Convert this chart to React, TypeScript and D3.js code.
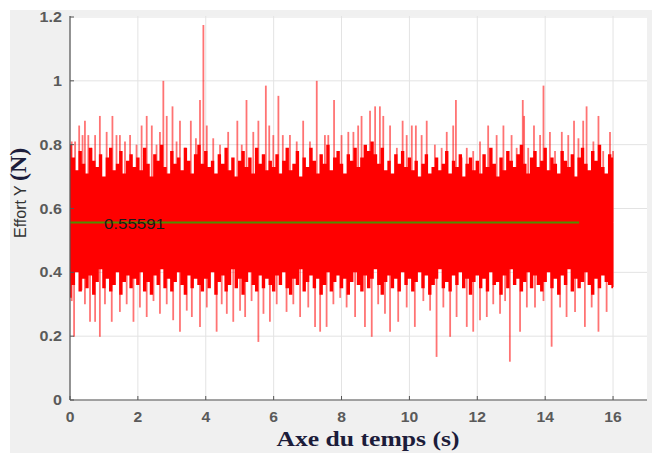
import React from "react";
import * as d3 from "d3";

// Upward spikes: time (s) and value (N)
const upT = [0.05,0.15,0.27,0.37,0.44,0.54,0.64,0.74,0.88,1.08,1.25,1.37,1.47,1.62,1.77,1.96,2.11,2.26,2.41,2.55,2.65,2.75,2.85,3.02,3.14,3.24,3.39,3.56,3.71,3.83,3.93,4.03,4.22,4.42,4.66,4.93,5.06,5.2,5.4,5.55,5.77,5.87,5.99,6.14,6.27,6.48,6.68,6.87,7.07,7.27,7.51,7.61,7.78,8.0,8.2,8.35,8.49,8.59,8.84,8.99,9.13,9.23,9.43,9.63,9.8,9.92,10.07,10.19,10.36,10.51,10.75,10.95,11.1,11.29,11.37,11.54,11.69,11.88,12.08,12.32,12.57,12.77,13.01,13.16,13.34,13.38,13.5,13.67,13.85,13.95,14.14,14.29,14.49,14.68,14.85,14.98,15.12,15.22,15.42,15.57,15.71,15.91,16.0];
const upV = [0.81,0.81,0.86,0.83,0.875,0.83,0.79,0.83,0.89,0.84,0.89,0.83,0.83,0.81,0.83,0.80,0.86,0.89,0.86,0.80,0.84,1.0,0.89,0.92,0.81,0.875,0.79,0.875,0.82,0.94,1.175,0.86,0.82,0.80,0.84,0.875,0.80,0.94,0.84,0.875,0.985,0.86,0.83,0.953,0.83,0.83,0.81,0.875,0.81,1.0,0.83,0.83,0.94,0.83,0.84,0.84,0.86,0.89,0.906,0.92,0.92,0.89,0.86,0.79,0.875,0.83,0.86,0.86,0.83,0.875,0.80,0.79,0.84,0.86,0.94,0.76,0.79,0.78,0.81,0.86,0.83,0.86,0.83,0.79,0.94,0.89,0.79,0.86,0.83,0.985,0.84,0.78,0.84,0.83,0.875,0.82,0.875,0.92,0.81,0.89,0.78,0.84,0.78];

// Downward spikes
const downT = [0.05,0.12,0.34,0.44,0.59,0.74,0.88,1.03,1.23,1.47,1.67,1.87,2.06,2.26,2.46,2.65,2.85,3.04,3.24,3.44,3.59,3.83,4.03,4.32,4.47,4.62,4.81,5.01,5.16,5.35,5.55,5.7,5.89,6.09,6.38,6.58,6.78,7.02,7.22,7.37,7.56,7.76,7.96,8.15,8.4,8.69,8.89,9.08,9.28,9.43,9.67,9.92,10.16,10.41,10.61,10.8,11.0,11.2,11.39,11.69,11.88,12.08,12.28,12.47,12.67,12.82,12.96,13.26,13.46,13.7,13.95,14.19,14.44,14.63,14.88,15.17,15.37,15.57,15.81,16.0];
const downV = [0.31,0.198,0.344,0.30,0.245,0.245,0.198,0.30,0.245,0.276,0.30,0.245,0.29,0.26,0.31,0.27,0.30,0.25,0.214,0.28,0.26,0.229,0.29,0.214,0.30,0.27,0.245,0.28,0.26,0.31,0.182,0.27,0.245,0.30,0.276,0.30,0.26,0.29,0.229,0.214,0.229,0.30,0.32,0.29,0.26,0.229,0.198,0.30,0.27,0.214,0.245,0.29,0.229,0.31,0.28,0.135,0.29,0.198,0.26,0.229,0.214,0.25,0.26,0.30,0.27,0.31,0.12,0.214,0.29,0.29,0.31,0.167,0.29,0.26,0.276,0.229,0.29,0.214,0.276,0.354];

// Solid core envelope of the signal, every 0.1 s from 0 to 16 s
const bandTop = [
  0.80,0.76,0.72,0.78,0.74,0.71,0.79,0.75,0.73,0.77,0.70,0.76,0.79,0.72,0.74,0.78,0.71,0.75,0.77,0.73,
  0.76,0.72,0.79,0.74,0.70,0.77,0.75,0.80,0.73,0.71,0.78,0.74,0.76,0.72,0.79,0.75,0.71,0.77,0.80,0.74,
  0.78,0.73,0.75,0.71,0.77,0.74,0.79,0.72,0.76,0.70,0.75,0.78,0.73,0.76,0.71,0.79,0.74,0.77,0.72,0.75,
  0.73,0.77,0.71,0.75,0.79,0.72,0.74,0.78,0.70,0.76,0.73,0.79,0.75,0.71,0.77,0.74,0.80,0.72,0.76,0.78,
  0.74,0.71,0.77,0.75,0.79,0.73,0.76,0.80,0.78,0.81,0.77,0.74,0.79,0.72,0.75,0.71,0.77,0.74,0.78,0.73,
  0.76,0.72,0.75,0.70,0.74,0.77,0.71,0.73,0.76,0.72,0.74,0.78,0.71,0.75,0.73,0.77,0.70,0.74,0.76,0.72,
  0.75,0.71,0.77,0.73,0.79,0.74,0.70,0.76,0.72,0.78,0.75,0.73,0.77,0.80,0.74,0.71,0.76,0.78,0.73,0.75,
  0.79,0.72,0.76,0.74,0.71,0.78,0.75,0.73,0.77,0.70,0.76,0.79,0.74,0.72,0.78,0.75,0.80,0.73,0.71,0.77,
  0.76];
const bandBottom = [
  0.32,0.36,0.40,0.34,0.38,0.35,0.39,0.33,0.37,0.41,0.35,0.38,0.34,0.36,0.40,0.33,0.37,0.39,0.35,0.38,
  0.36,0.40,0.34,0.37,0.33,0.39,0.36,0.41,0.35,0.38,0.34,0.37,0.40,0.36,0.33,0.39,0.35,0.38,0.36,0.34,
  0.38,0.35,0.40,0.33,0.37,0.39,0.34,0.36,0.41,0.35,0.38,0.33,0.37,0.40,0.36,0.34,0.39,0.35,0.38,0.36,
  0.34,0.39,0.36,0.40,0.35,0.33,0.38,0.36,0.41,0.34,0.37,0.39,0.35,0.38,0.33,0.36,0.40,0.34,0.37,0.39,
  0.35,0.38,0.33,0.37,0.40,0.36,0.34,0.39,0.35,0.38,0.41,0.36,0.33,0.37,0.39,0.35,0.38,0.34,0.40,0.36,
  0.38,0.34,0.37,0.40,0.35,0.39,0.33,0.36,0.38,0.41,0.35,0.37,0.34,0.39,0.36,0.40,0.35,0.38,0.33,0.37,
  0.39,0.35,0.38,0.34,0.40,0.36,0.37,0.33,0.39,0.35,0.41,0.36,0.38,0.34,0.37,0.40,0.35,0.39,0.36,0.34,
  0.37,0.40,0.35,0.38,0.33,0.39,0.36,0.41,0.34,0.38,0.35,0.37,0.40,0.36,0.33,0.38,0.35,0.39,0.37,0.36,
  0.35];

const meanValue = 0.55591;
const meanStart = 0;
const meanEnd = 15;
const meanLabel = "0.55591";
const xTicks = [0, 2, 4, 6, 8, 10, 12, 14, 16];
const yTicks = [0, 0.2, 0.4, 0.6, 0.8, 1, 1.2];
const yTickLabels = ["0", "0.2", "0.4", "0.6", "0.8", "1", "1.2"];
const xLabel = "Axe du temps (s)";
const yLabelMain = "Effort Y ";
const yLabelUnit = "(N)";

export default function App() {
  const W = 652, H = 453;
  const L = 70, R = 647, T = 16, B = 400;
  const x = d3.scaleLinear().domain([0, 17]).range([L, R]);
  const y = d3.scaleLinear().domain([0, 1.2]).range([B, T + 1]);

  const n = bandTop.length;
  const bandT = d3.range(n).map((i) => (i * 16) / (n - 1));
  const area = d3
    .area<number>()
    .curve(d3.curveStep)
    .x((i) => x(bandT[i]))
    .y0((i) => y(bandBottom[i]))
    .y1((i) => y(bandTop[i]))(d3.range(n)) as string;

  const sans = "'Liberation Sans', Arial, sans-serif";
  const serif = "'Liberation Serif', 'Times New Roman', serif";

  return (
    <svg width={W} height={H} style={{ position: "absolute", left: 0, top: 0 }}>
      <rect x={0} y={0} width={W} height={H} fill="#ffffff" />
      <rect x={10} y={10} width={W - 10} height={H - 10} fill="#f0f0f0" />
      <rect x={L} y={T} width={R - L} height={B - T} fill="#ffffff" />
      <defs>
        <clipPath id="plotclip">
          <rect x={L} y={T} width={R - L} height={B - T} />
        </clipPath>
      </defs>
      {xTicks.map((t) => (
        <line key={"gx" + t} x1={x(t)} x2={x(t)} y1={T} y2={B} stroke="#e3e3e3" strokeWidth={1} />
      ))}
      {yTicks.map((t) => (
        <line key={"gy" + t} x1={L} x2={R} y1={y(t)} y2={y(t)} stroke="#e3e3e3" strokeWidth={1} />
      ))}
      <g clipPath="url(#plotclip)">
        {upT.map((t, i) => (
          <line key={"u" + i} x1={x(t)} x2={x(t)} y1={y(meanValue)} y2={y(upV[i])} stroke="#ff0000" strokeOpacity={0.55} strokeWidth={1.8} />
        ))}
        {downT.map((t, i) => (
          <line key={"d" + i} x1={x(t)} x2={x(t)} y1={y(meanValue)} y2={y(downV[i])} stroke="#ff0000" strokeOpacity={0.55} strokeWidth={1.8} />
        ))}
        <path d={area} fill="#ff0000" />
        <line x1={x(meanStart)} x2={x(meanEnd)} y1={y(meanValue)} y2={y(meanValue)} stroke="#4f8f00" strokeWidth={2} />
        <text x={x(1)} y={y(meanValue) + 6} fontFamily={sans} fontSize={14} fill="#1a1a1a" textLength={61} lengthAdjust="spacingAndGlyphs">
          {meanLabel}
        </text>
      </g>
      <line x1={L} x2={R} y1={B} y2={B} stroke="#555" strokeWidth={1.2} />
      <line x1={L} x2={L} y1={T} y2={B} stroke="#555" strokeWidth={1.2} />
      {xTicks.map((t) => (
        <line key={"tx" + t} x1={x(t)} x2={x(t)} y1={B} y2={B - 4} stroke="#555" />
      ))}
      {yTicks.map((t) => (
        <line key={"ty" + t} x1={L} x2={L + 4} y1={y(t)} y2={y(t)} stroke="#555" />
      ))}
      {xTicks.map((t) => (
        <text key={"lx" + t} transform={`translate(${x(t)},${B + 22}) scale(1.12,1)`} textAnchor="middle" fontFamily={sans} fontSize={14} fontWeight="bold" fill="#5a5a5a">
          {t}
        </text>
      ))}
      {yTicks.map((t, i) => (
        <text key={"ly" + t} transform={`translate(${L - 8},${y(t) + 5}) scale(1.15,1)`} textAnchor="end" fontFamily={sans} fontSize={14} fontWeight="bold" fill="#5a5a5a">
          {yTickLabels[i]}
        </text>
      ))}
      <text x={368} y={446} textAnchor="middle" fontFamily={serif} fontWeight="bold" fontSize={22} fill="#1c1c3a" textLength={183} lengthAdjust="spacingAndGlyphs">
        {xLabel}
      </text>
      <text transform="translate(26,238) rotate(-90)" fontFamily={sans} fontSize={16} fill="#333">
        {yLabelMain}
        <tspan fontFamily={serif} fontWeight="bold" fontSize={24} fill="#1c1c3a">{yLabelUnit}</tspan>
      </text>
    </svg>
  );
}
